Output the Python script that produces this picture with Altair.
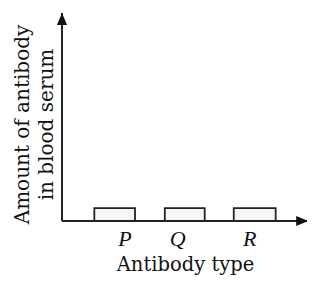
import altair as alt
import pandas as pd

categories = ["P", "Q", "R"]
bar_start = [1.28, 4.07, 6.80]
bar_end = [2.89, 5.65, 8.46]
amounts = [0.62, 0.62, 0.62]
label_pos = [2.49, 4.58, 7.43]

X_MAX = 9.7
Y_MAX = 10
TITLE_FONT = "DejaVu Serif"
LABEL_FONT = "Times New Roman"

bars_df = pd.DataFrame({"cat": categories, "x0": bar_start, "x1": bar_end, "amount": amounts})
labels_df = pd.DataFrame({"cat": categories, "pos": label_pos})

xs = alt.Scale(domain=[0, X_MAX], nice=False, zero=False)
ys = alt.Scale(domain=[0, Y_MAX], nice=False)

x_axis = alt.Axis(domain=False, ticks=False, labels=False, grid=False,
                  title="Antibody type", titleFont=TITLE_FONT, titleFontSize=19.5,
                  titleFontWeight="normal", titleColor="#111", titlePadding=34,
                  titleX=123)
y_axis = alt.Axis(domain=False, ticks=False, labels=False, grid=False,
                  title=["Amount of antibody", "in blood serum"], titleFont=TITLE_FONT,
                  titleFontSize=20, titleFontWeight="normal", titleColor="#111",
                  titlePadding=6, titleY=111, titleLineHeight=24)

bars = alt.Chart(bars_df).mark_rect(fill="#f6f6f6", stroke="#222", strokeWidth=1.8).encode(
    x=alt.X("x0:Q", scale=xs, axis=x_axis),
    x2="x1:Q",
    y=alt.Y("amount:Q", scale=ys, axis=y_axis),
    y2=alt.datum(0),
)

axes_df = pd.DataFrame({"x0": [0, 0], "x1": [X_MAX, 0], "y0": [0, 0], "y1": [0, Y_MAX]})
axis_lines = alt.Chart(axes_df).mark_rule(color="#222", strokeWidth=2).encode(
    x=alt.X("x0:Q", scale=xs), x2="x1:Q",
    y=alt.Y("y0:Q", scale=ys), y2="y1:Q",
)

up_arrow = alt.Chart(pd.DataFrame({"x": [0], "y": [Y_MAX]})).mark_point(
    shape="M0,0 L0.85,2 L-0.85,2 Z", size=144, filled=True, color="#111", opacity=1
).encode(x=alt.X("x:Q", scale=xs), y=alt.Y("y:Q", scale=ys))

right_arrow = alt.Chart(pd.DataFrame({"x": [X_MAX], "y": [0]})).mark_point(
    shape="M0.2,0 L-1.8,-0.85 L-1.8,0.85 Z", size=144, filled=True, color="#111", opacity=1
).encode(x=alt.X("x:Q", scale=xs), y=alt.Y("y:Q", scale=ys))

labels = alt.Chart(labels_df).mark_text(
    font=LABEL_FONT, fontSize=22, fontStyle="italic", color="#111", baseline="middle", align="center"
).encode(
    x=alt.X("pos:Q", scale=xs),
    y=alt.value(226),
    text="cat:N",
)

chart = alt.layer(bars, axis_lines, up_arrow, right_arrow, labels).properties(
    width=245, height=208,
    padding={"left": 54, "top": 5, "right": 0, "bottom": 57},
    autosize=alt.AutoSizeParams(type="none"),
    background="white",
).configure_view(strokeWidth=0, stroke="transparent")

chart.save("out.html", embed_options={"renderer": "svg", "actions": False})
